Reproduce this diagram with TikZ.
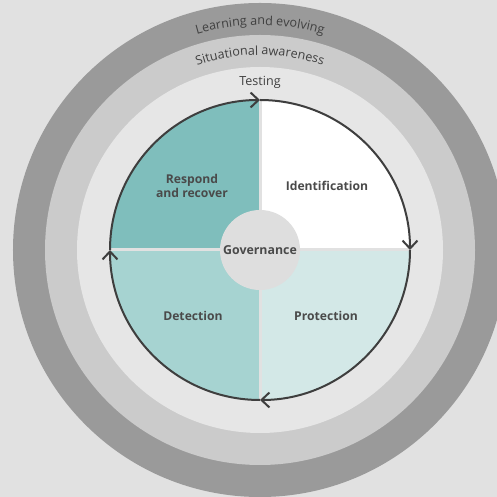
\documentclass[tikz,border=0pt]{standalone}
\usepackage{fontspec}
\setmainfont{Open Sans}
\usetikzlibrary{arrows.meta,decorations.text}

\definecolor{backdrop}{HTML}{E1E1E1}
\definecolor{outerring}{HTML}{9A9A9A}
\definecolor{midring}{HTML}{CBCBCB}
\definecolor{innerring}{HTML}{E6E6E6}
\definecolor{respondfill}{HTML}{7FBEBC}
\definecolor{detectfill}{HTML}{A6D3D1}
\definecolor{protectfill}{HTML}{D3E8E7}
\definecolor{govfill}{HTML}{DEDEDE}
\definecolor{labeltext}{HTML}{4A4A4A}
\definecolor{ringtext}{HTML}{404040}
\definecolor{cycleline}{HTML}{3E3E3E}

\newcommand{\ringfont}{\fontsize{12.6}{14}\selectfont}

\begin{document}
\begin{tikzpicture}[
  x=1bp, y=1bp,
  phase/.style={
    font=\fontsize{12.2}{14}\selectfont\bfseries,
    text=labeltext,
    align=center
  },
  ringlabel/.style={font=\ringfont, text=ringtext},
  govern/.style={
    circle,
    fill=govfill,
    minimum size=80bp,
    inner sep=0pt,
    font=\fontsize{12.4}{14}\selectfont\bfseries,
    text=labeltext
  },
  divider/.style={draw=backdrop, line width=3bp},
  cyclearc/.style={
    draw=cycleline,
    line width=2bp,
    -{Straight Barb[length=8bp, width=15bp, line width=2bp]}
  },
  curved/.style={
    decorate,
    decoration={text along path, text align=center,
      text color=ringtext, text={|\ringfont|#1}}
  }
]
  \useasboundingbox (-260,-247) rectangle (237,250);
  \clip (-260,-247) rectangle (237,250);

  % rings
  \fill[backdrop] (-260,-247) rectangle (237,250);
  \fill[outerring] (0,0) circle[radius=247];
  \fill[midring] (0,0) circle[radius=215];
  \fill[innerring] (0,0) circle[radius=183];

  \path[curved={Learning and evolving}]
    (145:225) arc[start angle=145, end angle=35, radius=225];
  \path[curved={Situational awareness}]
    (145:195) arc[start angle=145, end angle=35, radius=195];
  \node[ringlabel] (testing) at (0,168) {Testing};

  % quadrants
  \coordinate (north) at (90:150);
  \coordinate (east) at (0:150);
  \coordinate (south) at (-90:150);
  \coordinate (west) at (180:150);

  \fill[respondfill] (0,0) -- (west)
    arc[start angle=180, end angle=90, radius=150] -- cycle;
  \fill[white] (0,0) -- (north)
    arc[start angle=90, end angle=0, radius=150] -- cycle;
  \fill[protectfill] (0,0) -- (east)
    arc[start angle=0, end angle=-90, radius=150] -- cycle;
  \fill[detectfill] (0,0) -- (south)
    arc[start angle=-90, end angle=-180, radius=150] -- cycle;

  \draw[divider] (west) -- (east);
  \draw[divider] (north) -- (south);

  \draw[cyclearc] (west) arc[start angle=180, end angle=90, radius=150];
  \draw[cyclearc] (north) arc[start angle=90, end angle=0, radius=150];
  \draw[cyclearc] (east) arc[start angle=0, end angle=-90, radius=150];
  \draw[cyclearc] (south) arc[start angle=-90, end angle=-180, radius=150];

  \node[phase] (respond) at (-68,64) {Respond\\and recover};
  \node[phase] (ident) at (67,64) {Identification};
  \node[phase] (protect) at (66,-66) {Protection};
  \node[phase] (detect) at (-67,-66) {Detection};

  \node[govern] (gov) at (0,0) {Governance};
\end{tikzpicture}
\end{document}
